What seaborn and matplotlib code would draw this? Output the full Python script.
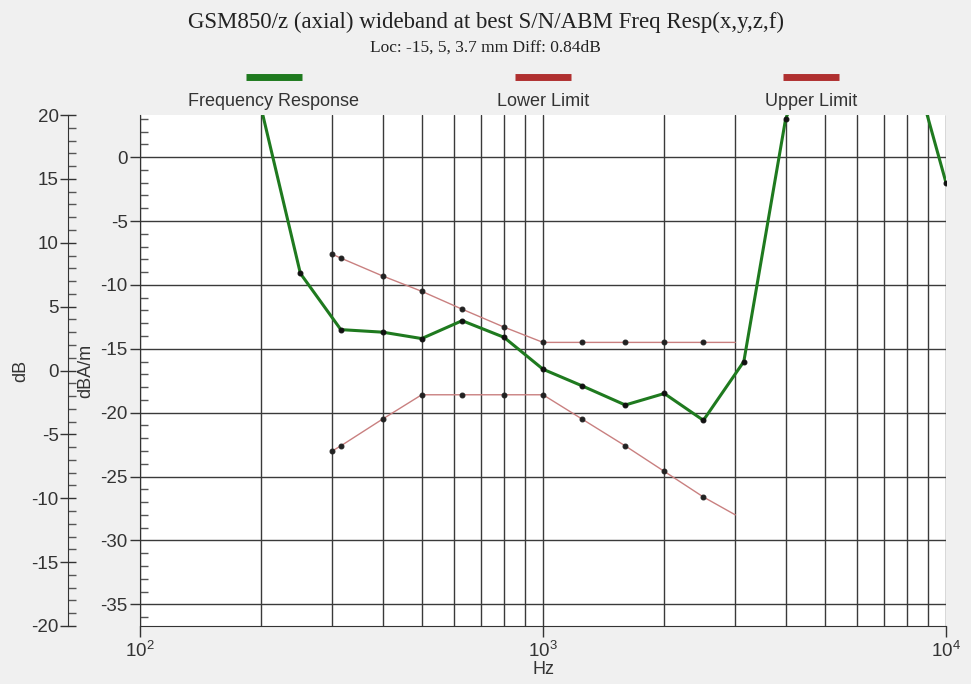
# Frequency response vs. limit masks, log frequency axis with a second dB scale
import numpy as np
import matplotlib.pyplot as plt
import pandas as pd
import seaborn as sns
from matplotlib.lines import Line2D
from matplotlib.ticker import MultipleLocator, LogLocator, NullFormatter

resp_hz = [160, 200, 250, 315, 400, 500, 630, 800, 1000, 1250, 1600,
           2000, 2500, 3150, 4000, 5000, 6300, 8000, 10000]
resp_db = [15.0, 3.8, -9.1, -13.5, -13.7, -14.2, -12.8, -14.1, -16.6, -17.9, -19.4,
           -18.5, -20.6, -16.0, 3.0, 10.0, 12.0, 9.0, -2.0]

# Limit masks
limit_hz = [300, 315, 400, 500, 630, 800, 1000, 1250, 1600, 2000, 2500, 3000]
upper_limit = [-7.6, -7.9, -9.3, -10.5, -11.9, -13.3, -14.5, -14.5, -14.5, -14.5, -14.5, -14.5]
lower_limit = [-23.0, -22.6, -20.5, -18.6, -18.6, -18.6, -18.6, -20.5, -22.6, -24.6, -26.6, -28.0]

legend_labels = ["Frequency Response", "Lower Limit", "Upper Limit"]

df_resp = pd.DataFrame({"Hz": resp_hz, "dBA/m": resp_db})
df_upper = pd.DataFrame({"Hz": limit_hz, "dBA/m": upper_limit})
df_lower = pd.DataFrame({"Hz": limit_hz, "dBA/m": lower_limit})

sns.set_style("white")
plt.rcParams["font.family"] = ["Liberation Sans", "DejaVu Sans"]
plt.rcParams["axes.unicode_minus"] = False

green = "#1f7a1f"
red = "#b03030"
limit_line = "#c98080"
grid_col = "#3a3a3a"
txt = "#333333"

fig = plt.figure(figsize=(9.71, 6.84), dpi=100, facecolor="#f0f0f0")
ax = fig.add_axes([140 / 971, 1 - 626 / 684, (946 - 140) / 971, (626 - 115) / 684])
ax.set_facecolor("white")

# limit lines: markers on every point but the last
for d in (df_upper, df_lower):
    sns.lineplot(data=d, x="Hz", y="dBA/m", ax=ax, color=limit_line, linewidth=1.0,
                 marker="o", markersize=3.5, markerfacecolor="#222222",
                 markeredgecolor="#222222", markevery=list(range(len(d) - 1)), zorder=3)

sns.lineplot(data=df_resp, x="Hz", y="dBA/m", ax=ax, color=green, linewidth=2.2,
             marker="o", markersize=3.5, markerfacecolor="#111111",
             markeredgecolor="#111111", zorder=4)

ax.set_xscale("log")
ax.set_xlim(100, 10000)
ax.set_ylim(-36.7, 3.3)

ax.xaxis.set_major_locator(LogLocator(base=10))
ax.xaxis.set_minor_locator(LogLocator(base=10, subs=np.arange(2, 10)))
ax.xaxis.set_minor_formatter(NullFormatter())
ax.yaxis.set_major_locator(MultipleLocator(5))
ax.yaxis.set_minor_locator(MultipleLocator(1))

ax.grid(True, which="both", axis="x", color=grid_col, linewidth=1.0)
ax.grid(True, which="major", axis="y", color=grid_col, linewidth=1.0)
ax.set_axisbelow(True)

for side in ("top", "right"):
    ax.spines[side].set_visible(False)
ax.spines["left"].set_color(txt)
ax.spines["bottom"].set_color(txt)

ax.tick_params(axis="y", which="major", direction="out", length=7, width=1,
               labelsize=13.5, colors=txt, left=True, pad=2)
ax.tick_params(axis="y", which="minor", direction="in", length=6, width=1,
               colors="#555555", left=True)
ax.tick_params(axis="x", which="major", direction="out", length=8, width=1,
               labelsize=13.5, colors=txt, bottom=True, pad=3)
ax.tick_params(axis="x", which="minor", length=0)

ax.set_xlabel("Hz", fontsize=13, color=txt, labelpad=0)
ax.set_ylabel("dBA/m", fontsize=13, color=txt)
ax.yaxis.set_label_coords(-0.068 + 9 / 806, 0.5)

# outer dB scale
ax2 = ax.twinx()
ax2.set_ylim(-20, 20)
ax2.yaxis.tick_left()
ax2.yaxis.set_label_position("left")
ax2.spines["left"].set_position(("outward", 52))
ax2.spines["left"].set_visible(True)
ax2.spines["left"].set_color(txt)
for side in ("top", "right", "bottom"):
    ax2.spines[side].set_visible(False)
ax2.yaxis.set_major_locator(MultipleLocator(5))
ax2.yaxis.set_minor_locator(MultipleLocator(1))
ax2.tick_params(axis="y", which="major", direction="inout", length=11, width=1,
                labelsize=13.5, colors=txt, pad=1)
ax2.tick_params(axis="y", which="minor", direction="in", length=6, width=1,
                colors="#555555")
ax2.set_ylabel("dB", fontsize=13, color=txt)
ax2.yaxis.set_label_coords(-0.138, 0.5)

# titles
fig.text(0.5, 1 - 22 / 684, "GSM850/z (axial) wideband at best S/N/ABM Freq Resp(x,y,z,f)",
         ha="center", va="center", fontsize=16.5, family="Liberation Serif", color="#222222")
fig.text(0.5, 1 - 48 / 684, "Loc: -15, 5, 3.7 mm Diff: 0.84dB",
         ha="center", va="center", fontsize=12.5, family="Liberation Serif", color="#222222")

# legend: swatch above label
legend_cols = [green, red, red]
legend_x = [274, 543, 811]
for lab, col, xc in zip(legend_labels, legend_cols, legend_x):
    fig.add_artist(Line2D([(xc - 28) / 971, (xc + 28) / 971], [1 - 77 / 684] * 2,
                          color=col, linewidth=5, solid_capstyle="butt"))
    fig.text(xc / 971, 1 - 101 / 684, lab, ha="center", va="center",
             fontsize=13, color=txt)

fig.savefig("out.png", dpi=100, facecolor=fig.get_facecolor())
